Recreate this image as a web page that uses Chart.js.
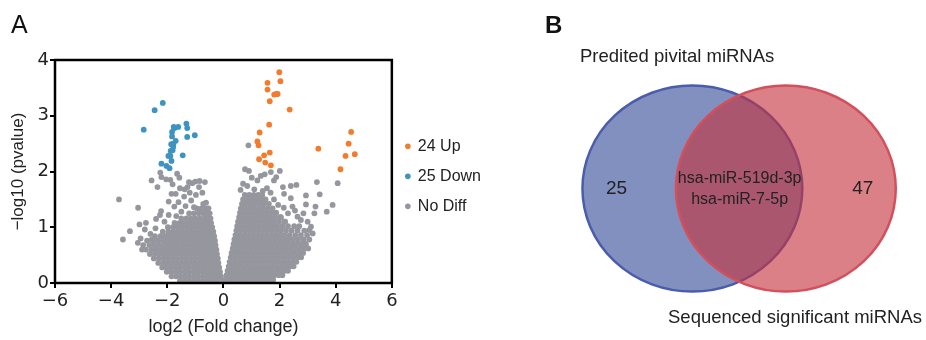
<!DOCTYPE html>
<html>
<head>
<meta charset="utf-8">
<script src="https://cdn.jsdelivr.net/npm/chart.js@4.4.1/dist/chart.umd.min.js"></script>
<style>
  html, body { margin: 0; padding: 0; background: #fff; }
  #wrap { position: relative; width: 926px; height: 340px; overflow: hidden; }
  #volcano { position: absolute; left: 0; top: 0; }
  #venn { position: absolute; left: 500px; top: 0; }
</style>
</head>
<body>
<div id="wrap">
  <canvas id="volcano" width="491" height="340"></canvas>
  <canvas id="venn" width="426" height="340"></canvas>
</div>
<script>
var FONT = "'Liberation Sans', Arial, Helvetica, sans-serif";
var TICKFONT = "'DejaVu Sans', 'Liberation Sans', sans-serif";
Chart.defaults.font.family = FONT;
Chart.defaults.color = '#222';

// ---- panel A data ----
var groups = ['24 Up', '25 Down', 'No Diff'];
var groupColors = ['#f47b2c', '#3e93c1', '#96969e'];

var upPoints = [[1.99,3.78],[2.03,3.62],[1.57,3.59],[1.57,3.47],[1.81,3.38],[1.88,3.39],[1.93,3.39],
  [1.65,3.26],[2.36,3.11],[1.63,2.84],[1.29,2.70],[1.21,2.54],[1.25,2.47],[1.65,2.34],[1.45,2.29],
  [1.27,2.22],[1.49,2.16],[1.69,2.11],[3.38,2.41],[4.55,2.71],[4.46,2.50],[4.35,2.28],[4.68,2.31],[4.17,2.04]];

var downPoints = [[-2.16,3.23],[-2.45,3.10],[-2.84,2.75],[-1.77,2.80],[-1.61,2.80],[-1.32,2.86],[-1.29,2.78],
  [-1.83,2.71],[-1.83,2.63],[-1.29,2.62],[-1.02,2.65],[-1.70,2.55],[-1.78,2.50],[-1.86,2.49],[-1.81,2.38],
  [-1.88,2.37],[-1.89,2.28],[-1.96,2.28],[-1.45,2.29],[-1.85,2.19],[-2.21,2.14],[-2.03,2.10],[-1.92,2.06],
  [-1.74,2.78],[-1.79,2.44]];

// dense grey cloud, one row per pvalue level: [y, x, x, ...]
var greyLeftRows = [
  [0.04, -1.55,-1.39,-1.23,-1.07,-0.91,-0.75,-0.59,-0.45,-0.32,-0.20,-0.08],
  [0.12, -1.85,-1.69,-1.53,-1.37,-1.21,-1.05,-0.89,-0.73,-0.57,-0.43,-0.30,-0.18,-0.09],
  [0.20, -2.02,-1.86,-1.70,-1.54,-1.38,-1.22,-1.06,-0.90,-0.74,-0.60,-0.46,-0.33,-0.21,-0.12],
  [0.28, -2.18,-2.02,-1.86,-1.70,-1.54,-1.38,-1.22,-1.06,-0.90,-0.75,-0.61,-0.47,-0.35,-0.24,-0.15],
  [0.36, -2.32,-2.14,-1.98,-1.82,-1.66,-1.50,-1.34,-1.18,-1.02,-0.86,-0.71,-0.57,-0.44,-0.31,-0.18],
  [0.44, -2.48,-2.30,-2.13,-1.97,-1.81,-1.65,-1.49,-1.33,-1.17,-1.01,-0.85,-0.70,-0.56,-0.42,-0.30,-0.20],
  [0.52, -2.62,-2.44,-2.27,-2.11,-1.95,-1.79,-1.63,-1.47,-1.31,-1.15,-0.99,-0.83,-0.68,-0.54,-0.40,-0.23],
  [0.60, -2.76,-2.56,-2.38,-2.20,-2.04,-1.88,-1.72,-1.56,-1.40,-1.24,-1.08,-0.92,-0.76,-0.61,-0.47,-0.34,-0.25],
  [0.68, -2.86,-2.64,-2.46,-2.29,-2.12,-1.96,-1.80,-1.64,-1.48,-1.32,-1.16,-1.00,-0.84,-0.68,-0.54,-0.40,-0.28],
  [0.76, -2.72,-2.52,-2.34,-2.16,-2.00,-1.84,-1.68,-1.52,-1.36,-1.20,-1.04,-0.88,-0.72,-0.58,-0.44,-0.30],
  [0.84, -2.44,-2.24,-2.06,-1.90,-1.74,-1.58,-1.42,-1.26,-1.10,-0.94,-0.78,-0.63,-0.48,-0.33],
  [0.92, -2.16,-1.96,-1.78,-1.62,-1.46,-1.30,-1.14,-0.98,-0.82,-0.67,-0.52,-0.36],
  [1.00, -1.98,-1.80,-1.64,-1.48,-1.32,-1.16,-1.00,-0.84,-0.69,-0.54,-0.40],
  [1.08, -1.74,-1.56,-1.40,-1.24,-1.08,-0.92,-0.76,-0.60,-0.44],
  [1.16, -1.50,-1.32,-1.16,-1.00,-0.84,-0.68,-0.55,-0.46],
  [1.25, -1.22,-1.05,-0.88,-0.72,-0.60,-0.49],
  [1.34, -0.95,-0.78,-0.64,-0.53]
];
var greyRightRows = [
  [0.06, 0.07,0.19,0.33,0.49,0.65,0.81,0.97,1.13,1.29,1.45,1.61,1.77],
  [0.14, 0.11,0.23,0.37,0.53,0.69,0.85,1.01,1.17,1.33,1.49,1.65,1.81,1.97,2.10],
  [0.22, 0.15,0.28,0.43,0.59,0.75,0.91,1.07,1.23,1.39,1.55,1.71,1.87,2.03,2.18,2.30],
  [0.30, 0.19,0.33,0.48,0.64,0.80,0.96,1.12,1.28,1.44,1.60,1.76,1.92,2.08,2.24,2.38,2.50],
  [0.38, 0.22,0.37,0.52,0.68,0.84,1.00,1.16,1.32,1.48,1.64,1.80,1.96,2.12,2.28,2.44,2.60],
  [0.46, 0.26,0.41,0.57,0.73,0.89,1.05,1.21,1.37,1.53,1.69,1.85,2.01,2.17,2.33,2.49,2.65,2.77],
  [0.54, 0.29,0.44,0.60,0.76,0.92,1.08,1.24,1.40,1.56,1.72,1.88,2.04,2.20,2.36,2.52,2.68,2.84],
  [0.62, 0.33,0.48,0.64,0.80,0.96,1.12,1.28,1.44,1.60,1.76,1.92,2.08,2.24,2.40,2.56,2.72,2.88,3.02],
  [0.70, 0.36,0.52,0.68,0.84,1.00,1.16,1.32,1.48,1.64,1.80,1.96,2.12,2.28,2.44,2.60,2.78,2.94],
  [0.78, 0.39,0.55,0.71,0.87,1.03,1.19,1.35,1.51,1.67,1.83,1.99,2.15,2.31,2.48,2.66,2.86,3.06],
  [0.86, 0.43,0.58,0.74,0.90,1.06,1.22,1.38,1.54,1.70,1.86,2.02,2.18,2.36,2.56,2.76,2.98],
  [0.94, 0.46,0.61,0.77,0.93,1.09,1.25,1.41,1.57,1.73,1.89,2.05,2.23,2.43,2.64,2.88],
  [1.02, 0.49,0.64,0.80,0.96,1.12,1.28,1.44,1.60,1.76,1.92,2.10,2.30,2.52],
  [1.10, 0.52,0.67,0.83,0.99,1.15,1.31,1.47,1.63,1.79,1.97,2.16],
  [1.18, 0.56,0.71,0.87,1.03,1.19,1.35,1.51,1.67,1.84,2.02],
  [1.26, 0.59,0.74,0.90,1.06,1.22,1.38,1.54,1.71,1.88],
  [1.34, 0.62,0.77,0.93,1.09,1.25,1.41,1.58,1.75],
  [1.42, 0.66,0.81,0.97,1.13,1.29,1.45,1.62],
  [1.50, 0.70,0.86,1.02,1.18,1.34,1.50],
  [1.58, 0.76,0.92,1.08,1.24,1.38]
];
// sparse grey points around the cloud
var greyScatter = [
  [-3.72,1.50],[-3.04,1.35],[-3.33,0.93],[-3.58,0.78],[-2.99,1.05],[-2.76,1.08],[-2.80,0.96],[-2.42,0.98],
  [-2.95,0.80],[-2.55,0.78],[-3.05,0.72],[-2.90,0.60],[-2.56,1.84],[-2.35,1.72],[-2.25,1.98],[-2.21,1.90],
  [-2.22,1.29],[-2.26,1.22],[-2.04,1.86],[-1.89,1.85],[-1.81,1.77],[-1.95,1.46],[-1.75,1.37],[-1.95,1.22],
  [-2.10,1.10],[-1.65,1.96],[-1.57,1.89],[-1.23,1.81],[-1.00,1.82],[-0.66,1.81],[-0.85,1.83],[-1.11,1.79],
  [-1.55,1.70],[-1.38,1.68],[-1.20,1.62],[-0.98,1.58],[-0.87,1.72],[-1.40,1.55],[-1.15,1.48],[-0.72,1.42],
  [-1.60,1.45],[-1.35,1.38],[-1.05,1.36],[-0.85,1.30],[-0.62,1.44],[-1.70,1.60],[-1.85,1.60],[-0.75,1.62],
  [-1.28,1.72],[-1.50,1.28],[-1.68,1.20],[-2.40,1.15],[-2.60,0.88],
  [0.89,2.47],[0.77,2.04],[0.91,2.01],[1.01,1.89],[1.21,1.84],[1.33,1.92],[1.47,1.95],[2.01,2.01],
  [1.88,1.90],[1.69,1.99],[1.80,1.84],[2.12,1.72],[2.40,1.74],[2.60,1.76],[2.16,1.60],[3.33,1.81],
  [3.43,1.59],[4.07,1.79],[3.89,1.40],[3.68,1.28],[2.94,1.57],[2.94,1.41],[3.28,1.37],[0.61,1.67],
  [0.70,1.78],[0.85,1.74],[1.55,1.70],[1.40,1.65],[1.10,1.68],[1.68,1.62],[1.80,1.50],[1.95,1.40],
  [2.40,1.52],[2.46,1.37],[2.64,1.19],[2.76,1.13],[3.12,1.01],[3.18,0.89],[3.06,0.95],[3.24,1.25],
  [2.55,1.30],[2.30,1.25],[2.15,1.35],[2.05,1.18],[2.20,1.10],[2.70,1.02],[2.85,1.25],[3.00,1.10]
];

// ---- panel B data ----
var vennSets = ['Predited pivital miRNAs', 'Sequenced significant miRNAs'];
var vennOnly = [25, 47];
var vennShared = ['hsa-miR-519d-3p', 'hsa-miR-7-5p'];

function pairs(list) { return list.map(function (p) { return {x: p[0], y: p[1]}; }); }
function rows(list) {
  var out = [];
  list.forEach(function (r) { r.slice(1).forEach(function (x) { out.push({x: x, y: r[0]}); }); });
  return out;
}
var greyPoints = rows(greyLeftRows).concat(rows(greyRightRows), pairs(greyScatter));

function minusSign(v) { return v < 0 ? '\u2212' + Math.abs(v) : String(v); }

var framePlugin = {
  id: 'frame',
  afterDraw: function (chart) {
    var a = chart.chartArea, ctx = chart.ctx;
    ctx.save();
    ctx.strokeStyle = '#000';
    ctx.lineWidth = 2.5;
    ctx.strokeRect(a.left, a.top, a.right - a.left, a.bottom - a.top);
    ctx.fillStyle = '#111';
    ctx.font = '25px ' + FONT;
    ctx.textBaseline = 'alphabetic';
    ctx.fillText('A', 11, 33);
    ctx.restore();
  }
};

new Chart(document.getElementById('volcano'), {
  type: 'scatter',
  data: {
    datasets: [
      {label: groups[0], data: pairs(upPoints)},
      {label: groups[1], data: pairs(downPoints)},
      {label: groups[2], data: greyPoints}
    ].map(function (d, i) {
      d.backgroundColor = groupColors[i];
      d.borderColor = groupColors[i];
      d.borderWidth = 0;
      d.pointRadius = 2.9;
      return d;
    })
  },
  options: {
    responsive: false,
    animation: false,
    layout: {padding: {top: 60, left: 0, right: 0, bottom: 0}},
    plugins: {
      tooltip: {enabled: false},
      legend: {
        position: 'right',
        fullSize: false,
        title: {display: true, text: ' ', font: {size: 8}, padding: 0},
        labels: {usePointStyle: true, pointStyle: 'circle', boxWidth: 4, boxHeight: 4, padding: 14,
                 font: {size: 16}, color: '#222'}
      }
    },
    scales: {
      x: {
        type: 'linear', min: -6, max: 6,
        ticks: {stepSize: 2, font: {size: 18, family: TICKFONT}, color: '#222', padding: 3, callback: minusSign},
        grid: {drawOnChartArea: false, tickLength: 5, color: '#000', lineWidth: 2},
        border: {display: false},
        title: {display: true, text: 'log2 (Fold change)', font: {size: 18}, color: '#222', padding: {top: 0, bottom: 2}},
        afterFit: function (s) { s.height = 57; }
      },
      y: {
        type: 'linear', min: 0, max: 4,
        ticks: {stepSize: 1, font: {size: 18, family: TICKFONT}, color: '#222', padding: 1},
        grid: {drawOnChartArea: false, tickLength: 5, color: '#000', lineWidth: 2},
        border: {display: false},
        title: {display: true, text: '\u2212log10 (pvalue)', font: {size: 17}, color: '#222', padding: {top: 8, bottom: 0}},
        afterFit: function (s) { s.width = 55; }
      }
    }
  },
  plugins: [framePlugin]
});

// Venn drawn on hidden linear scales, one unit = one set radius
var vennPlugin = {
  id: 'venn',
  afterDraw: function (chart) {
    var ctx = chart.ctx, sx = chart.scales.x, sy = chart.scales.y;
    var cx = [0, 0.85], cy = [0, 0], r = [1, 1];
    function ell(i) {
      var x = sx.getPixelForValue(cx[i]), y = sy.getPixelForValue(cy[i]);
      var rx = sx.getPixelForValue(cx[i] + r[i]) - x, ry = y - sy.getPixelForValue(cy[i] + r[i]);
      ctx.beginPath();
      ctx.ellipse(x, y, rx, ry, 0, 0, Math.PI * 2);
    }
    ctx.save();
    ell(0); ctx.fillStyle = '#8290c0'; ctx.fill();
    ctx.lineWidth = 2.5; ctx.strokeStyle = '#4a5dad'; ctx.stroke();
    ell(1); ctx.fillStyle = 'rgba(197,50,62,0.62)'; ctx.fill();
    ctx.strokeStyle = '#d2505c'; ctx.stroke();

    ctx.fillStyle = '#222';
    ctx.textAlign = 'center';
    ctx.textBaseline = 'middle';
    ctx.font = '19px ' + FONT;
    ctx.fillText(String(vennOnly[0]), sx.getPixelForValue(-0.69), sy.getPixelForValue(0));
    ctx.fillText(String(vennOnly[1]), sx.getPixelForValue(1.55), sy.getPixelForValue(0));
    ctx.font = '16px ' + FONT;
    ctx.fillText(vennShared[0], sx.getPixelForValue(0.43), sy.getPixelForValue(0.1));
    ctx.fillText(vennShared[1], sx.getPixelForValue(0.43), sy.getPixelForValue(-0.11));

    ctx.textAlign = 'left';
    ctx.textBaseline = 'alphabetic';
    ctx.font = '18.5px ' + FONT;
    ctx.fillText(vennSets[0], 80, 62);
    ctx.fillText(vennSets[1], 168, 323);
    ctx.font = 'bold 24px ' + FONT;
    ctx.fillStyle = '#111';
    ctx.fillText('B', 45, 33);
    ctx.restore();
  }
};

new Chart(document.getElementById('venn'), {
  type: 'scatter',
  data: {datasets: []},
  options: {
    responsive: false,
    animation: false,
    layout: {padding: 0},
    plugins: {legend: {display: false}, tooltip: {enabled: false}},
    scales: {
      x: {type: 'linear', min: -1.75, max: 2.125, display: false},
      y: {type: 'linear', min: -1.47, max: 1.83, display: false}
    }
  },
  plugins: [vennPlugin]
});
</script>
</body>
</html>
